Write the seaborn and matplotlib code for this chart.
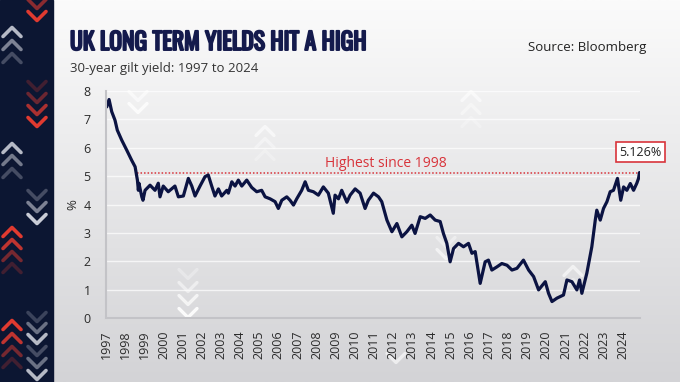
import numpy as np
import matplotlib
matplotlib.use("Agg")
import matplotlib.pyplot as plt
import matplotlib.patheffects as pe
import seaborn as sns
from matplotlib.colors import LinearSegmentedColormap
from matplotlib.lines import Line2D
from matplotlib.patches import Rectangle

# 30-year gilt yield (decimal year, %)
years = [1997.04, 1997.16, 1997.30, 1997.47, 1997.59, 1997.82, 1998.08, 1998.34, 1998.52, 1998.64,
         1998.69, 1998.72, 1998.87, 1998.93, 1999.04, 1999.30, 1999.56, 1999.73, 1999.82, 1999.99,
         2000.25, 2000.60, 2000.78, 2001.04, 2001.30, 2001.48, 2001.65, 2001.91, 2002.17, 2002.34,
         2002.52, 2002.69, 2002.87, 2003.04, 2003.31, 2003.39, 2003.57, 2003.74, 2003.91, 2004.09,
         2004.35, 2004.61, 2004.87, 2005.13, 2005.31, 2005.57, 2005.83, 2006.00, 2006.18, 2006.44,
         2006.61, 2006.79, 2006.96, 2007.22, 2007.40, 2007.57, 2007.83, 2008.09, 2008.35, 2008.61,
         2008.87, 2008.96, 2009.14, 2009.31, 2009.58, 2009.75, 2010.01, 2010.27, 2010.53, 2010.70,
         2010.97, 2011.23, 2011.40, 2011.67, 2011.93, 2012.19, 2012.45, 2012.71, 2012.97, 2013.14,
         2013.41, 2013.67, 2013.93, 2014.19, 2014.45, 2014.62, 2014.80, 2014.97, 2015.15, 2015.41,
         2015.67, 2015.93, 2016.11, 2016.28, 2016.54, 2016.80, 2016.97, 2017.15, 2017.41, 2017.67,
         2017.94, 2018.20, 2018.46, 2018.80, 2019.07, 2019.33, 2019.59, 2019.94, 2020.11, 2020.29,
         2020.55, 2020.89, 2021.07, 2021.33, 2021.59, 2021.73, 2021.85, 2022.11, 2022.37, 2022.55,
         2022.63, 2022.81, 2022.98, 2023.16, 2023.33, 2023.50, 2023.71, 2023.88, 2024.03, 2024.20,
         2024.38, 2024.55, 2024.72, 2024.81, 2024.86]
yields = [7.44, 7.70, 7.27, 6.97, 6.62, 6.27, 5.92, 5.56, 5.33, 4.86,
          4.50, 4.75, 4.27, 4.15, 4.50, 4.68, 4.50, 4.75, 4.27, 4.65,
          4.45, 4.65, 4.27, 4.30, 4.92, 4.65, 4.30, 4.65, 4.98, 5.04,
          4.65, 4.30, 4.55, 4.30, 4.50, 4.40, 4.80, 4.65, 4.86, 4.65,
          4.86, 4.60, 4.45, 4.50, 4.27, 4.20, 4.10, 3.86, 4.15, 4.27,
          4.15, 3.98, 4.20, 4.50, 4.80, 4.50, 4.45, 4.33, 4.62, 4.40,
          3.69, 4.33, 4.20, 4.50, 4.08, 4.33, 4.55, 4.40, 3.86, 4.15,
          4.40, 4.27, 4.10, 3.45, 3.04, 3.33, 2.86, 3.04, 3.27, 2.98,
          3.57, 3.51, 3.63, 3.45, 3.40, 2.98, 2.63, 1.98, 2.45, 2.63,
          2.51, 2.63, 2.28, 2.34, 1.22, 1.98, 2.04, 1.69, 1.80, 1.92,
          1.86, 1.69, 1.75, 2.04, 1.69, 1.46, 0.99, 1.28, 0.87, 0.58,
          0.70, 0.81, 1.34, 1.28, 0.99, 1.34, 0.87, 1.58, 2.51, 3.45,
          3.80, 3.45, 3.86, 4.10, 4.45, 4.50, 4.92, 4.15, 4.62, 4.50,
          4.74, 4.50, 4.75, 4.92, 5.126]
tick_years = list(range(1997, 2025))
y_ticks = list(range(0, 9))
latest_label = "5.126%"
highest_from = 1998.64
highest_label = "Highest since 1998"

NAVY = "#0b1342"
RED = "#d8343b"
TITLE = "#141a4c"
W, H = 680, 382

sns.set_style("white")
plt.rcParams["font.family"] = ["Open Sans", "DejaVu Sans"]

fig = plt.figure(figsize=(W / 100, H / 100), dpi=100)

# background: light gradient + dark strip with chevrons
bg = fig.add_axes([0, 0, 1, 1], zorder=0)
cmap = LinearSegmentedColormap.from_list("bg", ["#fbfbfb", "#d3d3d6"])
bg.imshow(np.linspace(0, 1, 256).reshape(-1, 1), aspect="auto", cmap=cmap,
          extent=[0, 1, 0, 1])
bg.set_xlim(0, 1)
bg.set_ylim(0, 1)
bg.axis("off")
bg.add_patch(Rectangle((0, 0), 53 / W, 1, color="#0c1632", transform=bg.transAxes))


def chevron(xc, yc, up, color, alpha, lw=2.6, hw=9, hh=4.5):
    s = -1 if up else 1
    xs = [xc - hw, xc, xc + hw]
    ys = [yc - s * hh, yc + s * hh, yc - s * hh]
    bg.add_line(Line2D([x / W for x in xs], [1 - y / H for y in ys], color=color,
                       alpha=alpha, lw=lw, solid_capstyle="round",
                       solid_joinstyle="round"))


GREY = "#c9ccd6"
for y, a in [(4, 0.6), (16, 1.0)]:
    chevron(37, y, False, "#e03a30", a)
for y, a in [(86, 0.25), (98, 0.45), (110, 0.75), (122, 1.0)]:
    chevron(37, y, False, "#e03a30", a)
for y, a in [(195, 0.3), (207, 0.6), (219, 1.0)]:
    chevron(37, y, False, GREY, a)
for y, a in [(317, 0.25), (328, 0.5), (339, 0.9), (351, 0.3), (363, 0.5), (375, 0.9)]:
    chevron(37, y, False, GREY, a)
for y, a in [(32, 0.9), (45, 0.6), (58, 0.3)]:
    chevron(12, y, True, GREY, a)
for y, a in [(148, 0.9), (160, 0.55), (173, 0.3)]:
    chevron(12, y, True, GREY, a)
for y, a in [(232, 1.0), (244, 0.85), (256, 0.5), (268, 0.25)]:
    chevron(12, y, True, "#e03a30", a)
for y, a in [(325, 1.0), (338, 0.85), (351, 0.5), (363, 0.25)]:
    chevron(12, y, True, "#e03a30", a)

# faint chevrons behind the plot
for x, y, up, a in [(138, 96, False, 0.6), (138, 108, False, 0.8),
                    (265, 131, True, 0.6), (265, 143, True, 0.4), (265, 155, True, 0.25),
                    (188, 274, False, 0.3), (188, 287, False, 0.5), (188, 300, False, 0.7),
                    (188, 313, False, 0.9),
                    (471, 96, True, 0.6), (471, 109, True, 0.4), (471, 122, True, 0.25),
                    (446, 242, False, 0.4), (446, 254, False, 0.6),
                    (573, 271, True, 0.6), (573, 284, True, 0.35),
                    (396, 358, False, 0.6)]:
    chevron(x, y, up, "white", a, lw=2.4)

# main chart
ax = fig.add_axes([106 / W, 1 - 318 / H, (639.5 - 106) / W, (318 - 91) / H], zorder=2)
ax.set_facecolor("none")
sns.lineplot(x=years, y=yields, ax=ax, color=NAVY, linewidth=2.3)
ax.hlines(yields[-1], highest_from, years[-1], colors=RED, linestyles=(0, (1, 1.3)),
          lw=1.1, zorder=1)

ax.set_xlim(1997, years[-1])
ax.set_ylim(0, 8)
ax.set_yticks(y_ticks)
ax.set_xticks(tick_years)
ax.set_xticklabels([str(t) for t in tick_years], rotation=90)
ax.yaxis.grid(True, color="white", alpha=0.7, lw=1)
ax.xaxis.grid(False)
for side in ["top", "right"]:
    ax.spines[side].set_visible(False)
for side in ["left", "bottom"]:
    ax.spines[side].set_color("#c3c3c7")
    ax.spines[side].set_linewidth(1.5)
ax.tick_params(axis="both", length=0, labelsize=9, colors="#2b2b2b")
ax.tick_params(axis="x", pad=9)
ax.tick_params(axis="y", pad=11)
ax.set_ylabel("%", fontsize=9.5, color="#2b2b2b", labelpad=3)
ax.set_xlabel("")

ax.text(2011.63, 5.45, highest_label, color=RED, fontsize=10, ha="center", va="center")
ax.text(2024.9, 5.85, latest_label, color="#222222", fontsize=9, ha="center", va="center",
        clip_on=False,
        bbox=dict(boxstyle="square,pad=0.25", fc="white", ec=RED, lw=1.2))

# titles
fig.text(70 / W, 1 - 50 / H, "UK LONG TERM YIELDS HIT A HIGH", color=TITLE,
         fontsize=17, fontweight="bold", va="baseline", ha="left",
         family=["Oswald", "Barlow Condensed", "DejaVu Sans"],
         path_effects=[pe.withStroke(linewidth=1.4, foreground=TITLE)])
fig.text(70 / W, 1 - 72 / H, "30-year gilt yield: 1997 to 2024", color="#333333",
         fontsize=9.5, va="baseline", ha="left")
fig.text(646 / W, 1 - 50.5 / H, "Source: Bloomberg", color="#222222",
         fontsize=9.5, va="baseline", ha="right")

fig.savefig("out.png", dpi=100)
